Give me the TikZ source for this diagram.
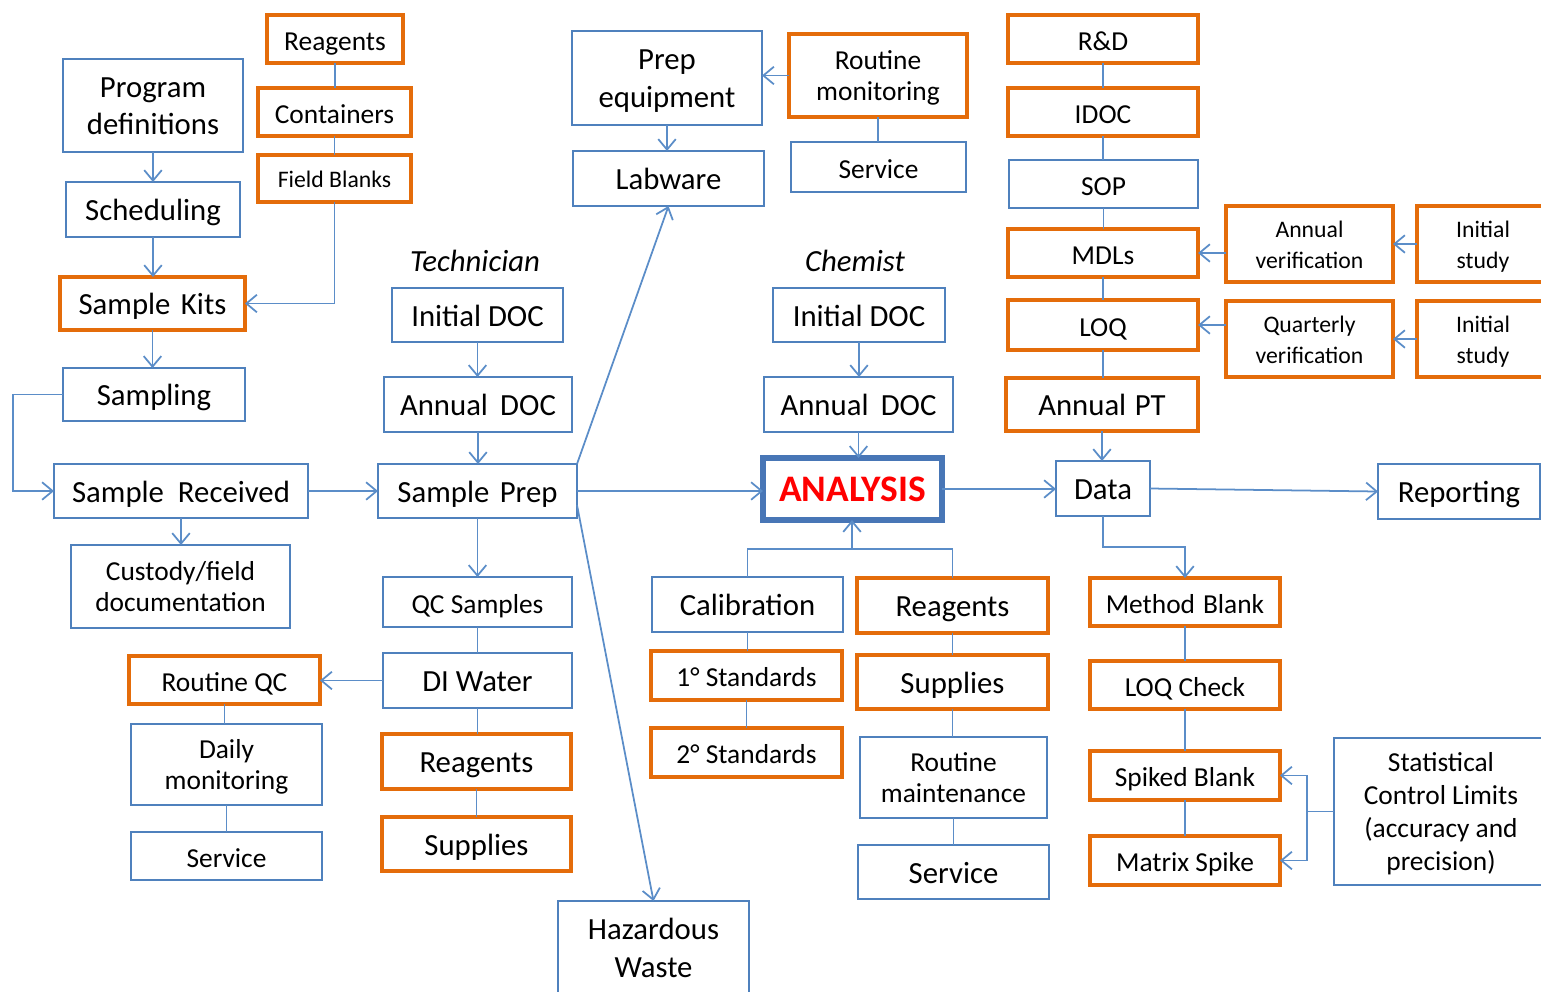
\documentclass[tikz,border=0pt]{standalone}
\usepackage{fontspec}
\setmainfont{Carlito}
\usetikzlibrary{arrows.meta}
\definecolor{bblue}{RGB}{79,129,189}
\definecolor{lblue}{RGB}{91,141,200}
\definecolor{borange}{RGB}{228,108,10}
\definecolor{ablue}{RGB}{72,118,182}
\newcommand\szL{\fontsize{17.5}{21.5}\selectfont}
\newcommand\szM{\fontsize{15.6}{18}\selectfont}
\newcommand\szMM{\fontsize{15.6}{18.7}\selectfont}
\newcommand\szS{\fontsize{13.5}{17.6}\selectfont}
\newcommand\tp{\rule{0pt}{\dimexpr0.7\baselineskip+3.4pt\relax}}
\newcommand\bx[7]{\node[#2, minimum width={0.02cm*(#5-#3)}, minimum height={0.02cm*(#6-#4)}] (#1) at ({(#3+#5)/2},{(#4+#6)/2}) {#7};}
\begin{document}
\begin{tikzpicture}[x=0.02cm,y=-0.02cm,
  bbox/.style={draw=bblue, line width=1.1pt, fill=white, inner sep=0pt, outer sep=0pt, text=black, align=center},
  obox/.style={draw=borange, line width=2.2pt, fill=white, inner sep=0pt, outer sep=0pt, text=black, align=center},
  abox/.style={draw=ablue, line width=3pt, fill=white, inner sep=0pt, outer sep=0pt, text=red, font=\fontsize{21.3}{25}\selectfont\bfseries},
  tL/.style={font=\szL, text height=16.5pt, text depth=3.5pt},
  tM/.style={font=\szM, text height=16.3pt, text depth=3.24pt},
  tS/.style={font=\szS, text height=13.2pt, text depth=2.9pt},
  conn/.style={draw=lblue, line width=1pt},
  arr/.style={conn, -{Straight Barb[length=6pt,width=10pt]}},
  lbl/.style={font=\szL\itshape, text=black}]
\useasboundingbox (0,0) rectangle (1541,991);
% left column
\bx{lreag}{obox,tM}{267}{15}{403}{63}{Reagents}
\bx{cont}{obox,tM}{258}{88}{411}{136}{Containers}
\bx{fblank}{obox,tS}{258}{155}{411}{202}{Field Blanks}
\bx{prog}{bbox,font=\szL}{63}{59}{243}{152}{\tp Program\\definitions\strut}
\bx{sched}{bbox,tL}{66}{182}{240}{237}{Scheduling}
\bx{kits}{obox,tL}{60}{277}{245}{330}{Sample\hspace{2pt} Kits}
\bx{samp}{bbox,tL}{63}{368}{245}{421}{Sampling}
\bx{recv}{bbox,tL}{54}{464}{308}{518}{Sample\hspace{4pt} Received}
\bx{cust}{bbox,font=\szM}{71}{545}{290}{628}{\tp Custody/field\\documentation\strut}
\bx{rqc}{obox,tM}{129}{656}{320}{704}{Routine QC}
\bx{daily}{bbox,font=\szM}{131}{724}{322}{805}{\tp Daily\\monitoring\strut}
\bx{lsvc}{bbox,tM}{131}{832}{322}{880}{Service}
% technician column
\node[lbl] (tech) at (475,261) {Technician};
\bx{tido}{bbox,tL}{392}{288}{563}{342}{Initial DOC}
\bx{tado}{bbox,tL}{384}{377}{572}{432}{Annual\hspace{3pt} DOC}
\bx{prep}{bbox,tL}{378}{464}{577}{518}{Sample\hspace{2pt} Prep}
\bx{qcs}{bbox,tM}{383}{577}{572}{627}{QC Samples}
\bx{diw}{bbox,tL}{383}{653}{572}{708}{DI Water}
\bx{treag}{obox,tL}{382}{734}{571}{789}{Reagents}
\bx{tsup}{obox,tL}{382}{817}{571}{871}{Supplies}
\bx{haz}{bbox,font=\szL}{558}{901}{749}{995}{\tp Hazardous\\Waste\strut}
% top middle
\bx{peq}{bbox,font=\szL}{572}{31}{762}{125}{\tp Prep\\equipment\strut}
\bx{lab}{bbox,tL}{573}{151}{764}{206}{Labware}
\bx{rmon}{obox,font=\szM}{789}{34}{967}{117}{\tp Routine\\monitoring\strut}
\bx{msvc}{bbox,tM}{791}{142}{966}{192}{Service}
% chemist column
\node[lbl] (chem) at (855,261) {Chemist};
\bx{cido}{bbox,tL}{773}{288}{945}{342}{Initial DOC}
\bx{cado}{bbox,tL}{764}{377}{953}{432}{Annual\hspace{3pt} DOC}
\bx{ana}{abox}{763}{458}{942}{520}{ANALYSIS}
\bx{cal}{bbox,tL}{652}{577}{843}{632}{Calibration}
\bx{creag}{obox,tL}{857}{578}{1048}{633}{Reagents}
\bx{std1}{obox,tM}{651}{651}{842}{700}{1° Standards}
\bx{std2}{obox,tM}{651}{728}{842}{777}{2° Standards}
\bx{csup}{obox,tL}{857}{655}{1048}{709}{Supplies}
\bx{rmaint}{bbox,font=\szM}{860}{737}{1047}{818}{\tp Routine\\maintenance\strut}
\bx{csvc}{bbox,tL}{858}{845}{1049}{899}{Service}
% right
\bx{rd}{obox,tM}{1008}{15}{1198}{63}{R\&D}
\bx{idoc}{obox,tM}{1008}{88}{1198}{136}{IDOC}
\bx{sop}{bbox,tM}{1009}{160}{1198}{208}{SOP}
\bx{mdl}{obox,tM}{1008}{229}{1198}{277}{MDLs}
\bx{loq}{obox,tM}{1008}{300}{1198}{350}{LOQ}
\bx{apt}{obox,tL}{1006}{378}{1198}{431}{Annual\hspace{1pt} PT}
\bx{av}{obox,font=\szS}{1226}{206}{1393}{282}{\tp Annual\\verification\strut}
\bx{is1}{obox,font=\szS}{1417}{206}{1549}{282}{\tp Initial\\study\strut}
\bx{qv}{obox,font=\szS}{1226}{301}{1393}{377}{\tp Quarterly\\verification\strut}
\bx{is2}{obox,font=\szS}{1417}{301}{1549}{377}{\tp Initial\\study\strut}
\bx{data}{bbox,tL}{1056}{461}{1150}{516}{Data}
\bx{rep}{bbox,tL}{1378}{464}{1540}{519}{Reporting}
\bx{mb}{obox,tM}{1090}{578}{1280}{626}{Method\hspace{1pt} Blank}
\bx{lqc}{obox,tM}{1090}{661}{1280}{709}{LOQ Check}
\bx{sb}{obox,tM}{1090}{751}{1280}{800}{Spiked Blank}
\bx{ms}{obox,tM}{1090}{836}{1280}{885}{Matrix Spike}
\bx{stat}{bbox,font=\szMM}{1334}{738}{1548}{885}{\tp Statistical\\Control Limits\\(accuracy and\\precision)\strut}
% connectors left
\draw[conn] (lreag.south) -- (lreag.south |- cont.north);
\draw[conn] (cont.south) -- (cont.south |- fblank.north);
\draw[arr] (fblank.south) |- (kits.east);
\draw[arr] (prog.south) -- (prog.south |- sched.north);
\draw[arr] (sched.south) -- (sched.south |- kits.north);
\draw[arr] (kits.south) -- (kits.south |- samp.north);
\draw[arr] (samp.west) -- ++(-50,0) |- (recv.west);
\draw[arr] (recv.east) -- (recv.east -| prep.west);
\draw[arr] (recv.south) -- (recv.south |- cust.north);
\draw[arr] (tido.south) -- (tido.south |- tado.north);
\draw[arr] (tado.south) -- (tado.south |- prep.north);
\draw[arr] (prep.south) -- (prep.south |- qcs.north);
\draw[conn] (qcs.south) -- (qcs.south |- diw.north);
\draw[arr] (diw.west) -- (diw.west -| rqc.east);
\draw[conn] (diw.south) -- (diw.south |- treag.north);
\draw[conn] (treag.south) -- (treag.south |- tsup.north);
\draw[conn] (rqc.south) -- (rqc.south |- daily.north);
\draw[conn] (daily.south) -- (daily.south |- lsvc.north);
\draw[arr] (prep.north east) -- (lab.south);
\draw[arr] ([yshift=0.26cm]prep.south east) -- (haz.north);
\draw[arr] (prep.east) -- (prep.east -| ana.west);
% top middle
\draw[arr] (peq.south) -- (peq.south |- lab.north);
\draw[arr] (rmon.west) -- (rmon.west -| peq.east);
\draw[conn] (rmon.south) -- (rmon.south |- msvc.north);
% chemist
\draw[arr] (cido.south) -- (cido.south |- cado.north);
\draw[arr] (cado.south) -- (cado.south |- ana.north);
\coordinate (j) at (852,549);
\draw[conn] (cal.north) |- (j) -| (creag.north);
\draw[arr] (j) -- (j |- ana.south);
\draw[conn] (cal.south) -- (cal.south |- std1.north);
\draw[conn] (std1.south) -- (std1.south |- std2.north);
\draw[conn] (creag.south) -- (creag.south |- csup.north);
\draw[conn] (csup.south) -- (csup.south |- rmaint.north);
\draw[conn] (rmaint.south) -- (rmaint.south |- csvc.north);
\draw[arr] (ana.east) -- (ana.east -| data.west);
% right
\draw[conn] (rd.south) -- (rd.south |- idoc.north);
\draw[conn] (idoc.south) -- (idoc.south |- sop.north);
\draw[conn] (sop.south) -- (sop.south |- mdl.north);
\draw[conn] (mdl.south) -- (mdl.south |- loq.north);
\draw[conn] (loq.south) -- (loq.south |- apt.north);
\draw[arr] (apt.south) -- (apt.south |- data.north);
\draw[arr] (av.west |- mdl.east) -- (mdl.east);
\draw[arr] (is1.west) -- (is1.west -| av.east);
\draw[arr] (qv.west |- loq.east) -- (loq.east);
\draw[arr] (is2.west) -- (is2.west -| qv.east);
\draw[arr] (data.east) -- (rep.west);
\draw[arr] (data.south) -- ++(0,31) -| (mb.north);
\draw[conn] (mb.south) -- (mb.south |- lqc.north);
\draw[conn] (lqc.south) -- (lqc.south |- sb.north);
\draw[conn] (sb.south) -- (sb.south |- ms.north);
\draw[conn] (stat.west) -- ++(-27,0) coordinate (k);
\draw[arr] (k) |- (sb.east);
\draw[arr] (k) |- (ms.east);
\end{tikzpicture}
\end{document}
